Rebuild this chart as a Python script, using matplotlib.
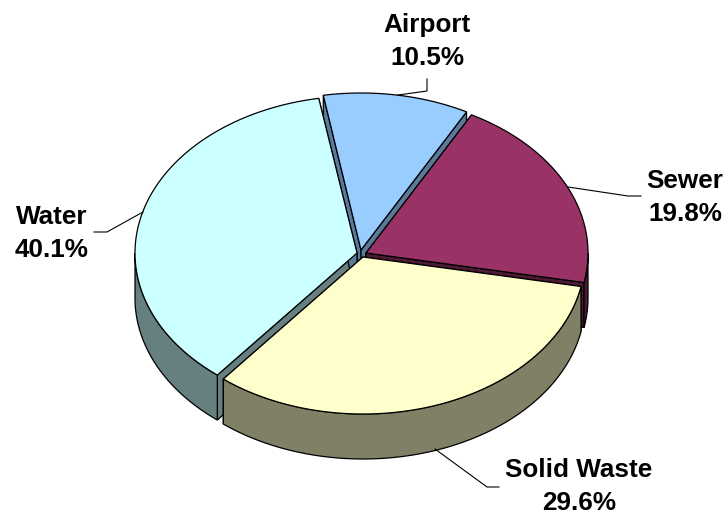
import numpy as np
import matplotlib
matplotlib.use('Agg')
import matplotlib.pyplot as plt
from matplotlib.patches import Polygon

# drawn clockwise from the top, starting with Airport
labels = ['Airport', 'Sewer', 'Solid Waste', 'Water']
shares = [10.5, 19.8, 29.6, 40.1]

top_colors = ['#99CCFF', '#993366', '#FFFFCC', '#CCFFFF']
wall_colors = ['#5B7A99', '#4D1A33', '#808066', '#668080']

plt.rcParams['font.family'] = ['Liberation Sans', 'DejaVu Sans']

# pie geometry in pixels
rx, ry = 222, 157
depth = 45
start_angle = 100.6
apexes = [(361, 250), (366, 253), (363, 257), (357, 253)]


def view_angle(a):
    # perspective stretches the front left of the disc
    d = (a + 120 + 180) % 360 - 180
    return a - 14 * np.exp(-(d / 80) ** 2) - 1.5 * np.exp(-((a - 40) / 40) ** 2)


def rim(apex, a0, a1, n=120):
    t = np.radians(np.linspace(a0, a1, n))
    return np.column_stack([apex[0] + rx * np.cos(t), apex[1] - ry * np.sin(t)])


fig = plt.figure(figsize=(7.28, 5.15), dpi=100)
ax = fig.add_axes([0, 0, 1, 1])
ax.set_xlim(0, 728)
ax.set_ylim(515, 0)
ax.axis('off')

sweeps = np.array(shares) / np.sum(shares) * 360
edges = start_angle - np.concatenate([[0], np.cumsum(sweeps)])
draw_edges = view_angle(edges)
down = np.array([0, depth])

# walls first, back to front, tops go over them afterwards
for i in [0, 1, 3, 2]:
    apex = np.array(apexes[i], dtype=float)
    a0, a1 = draw_edges[i], draw_edges[i + 1]
    for j, a in enumerate([a0, a1]):
        tip = rim(apex, a, a, 1)[0]
        color = wall_colors[i]
        if i == 3 and j == 1:
            color = wall_colors[0]  # the gap next to Airport reads blue
        ax.add_patch(Polygon([apex, tip, tip + down, apex + down],
                             closed=True, fc=color, ec='black', lw=0.9))
    # only the front half of the rim can be seen
    lo, hi = a1, min(a0, 0)
    if i == 3:
        lo, hi = -180, a0
    if lo < hi:
        arc = rim(apex, lo, hi)
        ax.add_patch(Polygon(np.vstack([arc, arc[::-1] + down]),
                             closed=True, fc=wall_colors[i], ec='black', lw=0.9))

for i in range(len(labels)):
    apex = np.array(apexes[i], dtype=float)
    arc = rim(apex, draw_edges[i], draw_edges[i + 1])
    ax.add_patch(Polygon(np.vstack([apex, arc]), closed=True,
                         fc=top_colors[i], ec='black', lw=0.9, joinstyle='miter'))

# leader lines
leaders = [[(427, 79), (427, 91), (398, 95)],
           [(568, 187), (628, 196), (641, 196)],
           [(435, 449), (487, 487), (499, 487)],
           [(143, 212), (107, 232), (94, 232)]]
for pts in leaders:
    xs, ys = zip(*pts)
    ax.plot(xs, ys, color='black', lw=0.8)

label_spots = [(427, 32), (685, 188), (579, 477), (52, 224)]
for name, share, (x, y) in zip(labels, shares, label_spots):
    ax.text(x, y, name, ha='center', va='baseline', fontsize=18.8,
            fontweight='bold', color='black')
    ax.text(x, y + 33, f'{share:.1f}%', ha='center', va='baseline', fontsize=18.8,
            fontweight='bold', color='black')

fig.savefig('out.png', dpi=100)
